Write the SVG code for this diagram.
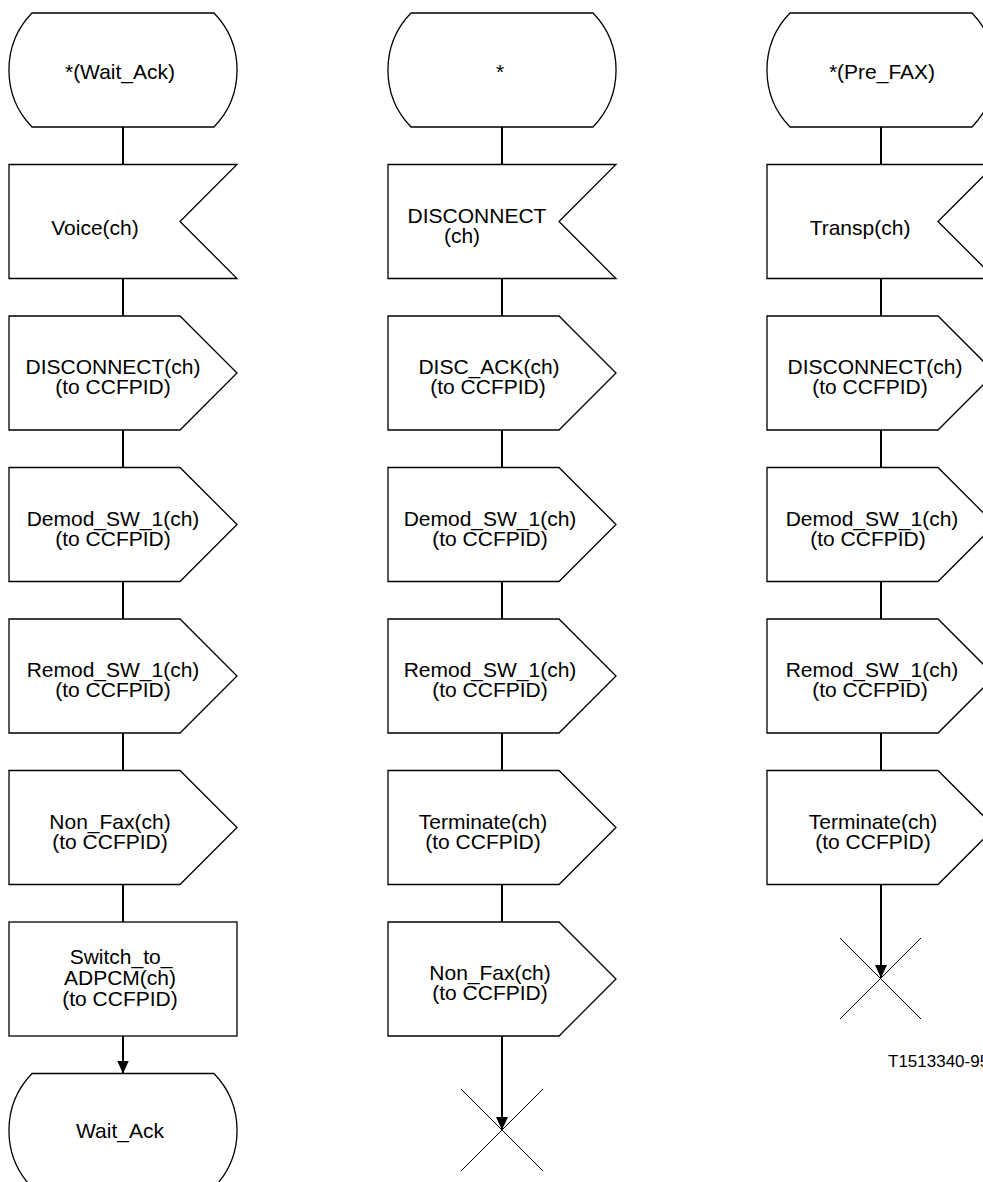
<svg xmlns="http://www.w3.org/2000/svg" width="983" height="1182" viewBox="0 0 983 1182">
<style>
.s{fill:#fff;stroke:#000;stroke-width:1.3}
.t{font-family:"Liberation Sans",Arial,sans-serif;font-size:21px;fill:#000;text-anchor:middle}
.c{stroke:#000;stroke-width:2;fill:none}
.x{stroke:#000;stroke-width:1}
</style>
<defs>
<marker id="arr" viewBox="0 0 13 12" refX="13" refY="6" markerWidth="13" markerHeight="12" orient="auto" markerUnits="userSpaceOnUse"><path d="M0,0 L13,6 L0,12 Z" fill="#000"/></marker>
</defs>
<rect width="983" height="1182" fill="#fff"/>
<g id="connectors">
<path class="c" d="M123,127V164.5M123,278.5V316M123,430V467.5M123,581.5V619M123,733V770.5M123,884.5V922"/>
<path class="c" d="M123,1036V1073.5" marker-end="url(#arr)"/>
<path class="c" d="M502,127V164.5M502,278.5V316M502,430V467.5M502,581.5V619M502,733V770.5M502,884.5V922"/>
<path class="c" d="M502,1036V1130" marker-end="url(#arr)"/>
<path class="c" d="M881,127V164.5M881,278.5V316M881,430V467.5M881,581.5V619M881,733V770.5"/>
<path class="c" d="M881,884.5V978" marker-end="url(#arr)"/>
</g>
<!-- Column 1 -->
<g id="c1_state"><path class="s" d="M32,13H214A82 82 0 0 1 214,127H32A82 82 0 0 1 32,13Z"/><text class="t" x="120" y="79">*(Wait_Ack)</text></g>
<g id="c1_voice"><path class="s" d="M9,164.5H237L180,221.5L237,278.5H9Z"/><text class="t" x="95" y="235">Voice(ch)</text></g>
<g id="c1_disc"><path class="s" d="M9,316H180L237,373L180,430H9Z"/><text class="t" x="113" y="374">DISCONNECT(ch)</text><text class="t" x="113" y="394">(to CCFPID)</text></g>
<g id="c1_demod"><path class="s" d="M9,467.5H180L237,524.5L180,581.5H9Z"/><text class="t" x="113" y="525.5">Demod_SW_1(ch)</text><text class="t" x="113" y="545.5">(to CCFPID)</text></g>
<g id="c1_remod"><path class="s" d="M9,619H180L237,676L180,733H9Z"/><text class="t" x="113" y="677">Remod_SW_1(ch)</text><text class="t" x="113" y="697">(to CCFPID)</text></g>
<g id="c1_nonfax"><path class="s" d="M9,770.5H180L237,827.5L180,884.5H9Z"/><text class="t" x="110" y="828.5">Non_Fax(ch)</text><text class="t" x="110" y="848.5">(to CCFPID)</text></g>
<g id="c1_switch"><rect class="s" x="9" y="922" width="228" height="114"/><text class="t" x="121" y="964">Switch_to_</text><text class="t" x="120" y="985">ADPCM(ch)</text><text class="t" x="120" y="1006">(to CCFPID)</text></g>
<g id="c1_waitack"><path class="s" d="M32,1073.5H214A82 82 0 0 1 214,1187.5H32A82 82 0 0 1 32,1073.5Z"/><text class="t" x="120" y="1138">Wait_Ack</text></g>
<!-- Column 2 -->
<g id="c2_state"><path class="s" d="M411,13H593A82 82 0 0 1 593,127H411A82 82 0 0 1 411,13Z"/><text class="t" x="500" y="79">*</text></g>
<g id="c2_disc"><path class="s" d="M388,164.5H616L559,221.5L616,278.5H388Z"/><text class="t" x="477" y="222.5">DISCONNECT</text><text class="t" x="462" y="242.5">(ch)</text></g>
<g id="c2_discack"><path class="s" d="M388,316H559L616,373L559,430H388Z"/><text class="t" x="489" y="374">DISC_ACK(ch)</text><text class="t" x="488" y="394">(to CCFPID)</text></g>
<g id="c2_demod"><path class="s" d="M388,467.5H559L616,524.5L559,581.5H388Z"/><text class="t" x="490" y="525.5">Demod_SW_1(ch)</text><text class="t" x="490" y="545.5">(to CCFPID)</text></g>
<g id="c2_remod"><path class="s" d="M388,619H559L616,676L559,733H388Z"/><text class="t" x="490" y="677">Remod_SW_1(ch)</text><text class="t" x="490" y="697">(to CCFPID)</text></g>
<g id="c2_term"><path class="s" d="M388,770.5H559L616,827.5L559,884.5H388Z"/><text class="t" x="483" y="828.5">Terminate(ch)</text><text class="t" x="483" y="848.5">(to CCFPID)</text></g>
<g id="c2_nonfax"><path class="s" d="M388,922H559L616,979L559,1036H388Z"/><text class="t" x="490" y="980">Non_Fax(ch)</text><text class="t" x="490" y="1000">(to CCFPID)</text></g>
<g id="c2_stop"><path class="x" d="M461,1089L543,1171M543,1089L461,1171"/></g>
<!-- Column 3 -->
<g id="c3_state"><path class="s" d="M790,13H972A82 82 0 0 1 972,127H790A82 82 0 0 1 790,13Z"/><text class="t" x="882" y="79">*(Pre_FAX)</text></g>
<g id="c3_transp"><path class="s" d="M767,164.5H995L938,221.5L995,278.5H767Z"/><text class="t" x="860" y="235">Transp(ch)</text></g>
<g id="c3_disc"><path class="s" d="M767,316H938L995,373L938,430H767Z"/><text class="t" x="875" y="374">DISCONNECT(ch)</text><text class="t" x="870" y="394">(to CCFPID)</text></g>
<g id="c3_demod"><path class="s" d="M767,467.5H938L995,524.5L938,581.5H767Z"/><text class="t" x="872" y="525.5">Demod_SW_1(ch)</text><text class="t" x="868" y="545.5">(to CCFPID)</text></g>
<g id="c3_remod"><path class="s" d="M767,619H938L995,676L938,733H767Z"/><text class="t" x="872" y="677">Remod_SW_1(ch)</text><text class="t" x="870" y="697">(to CCFPID)</text></g>
<g id="c3_term"><path class="s" d="M767,770.5H938L995,827.5L938,884.5H767Z"/><text class="t" x="873" y="828.5">Terminate(ch)</text><text class="t" x="873" y="848.5">(to CCFPID)</text></g>
<g id="c3_stop"><path class="x" d="M840,938L921,1019M921,938L840,1019"/></g>
<text x="888" y="1067" font-family="Liberation Sans, Arial, sans-serif" font-size="17">T1513340-95</text>
</svg>
